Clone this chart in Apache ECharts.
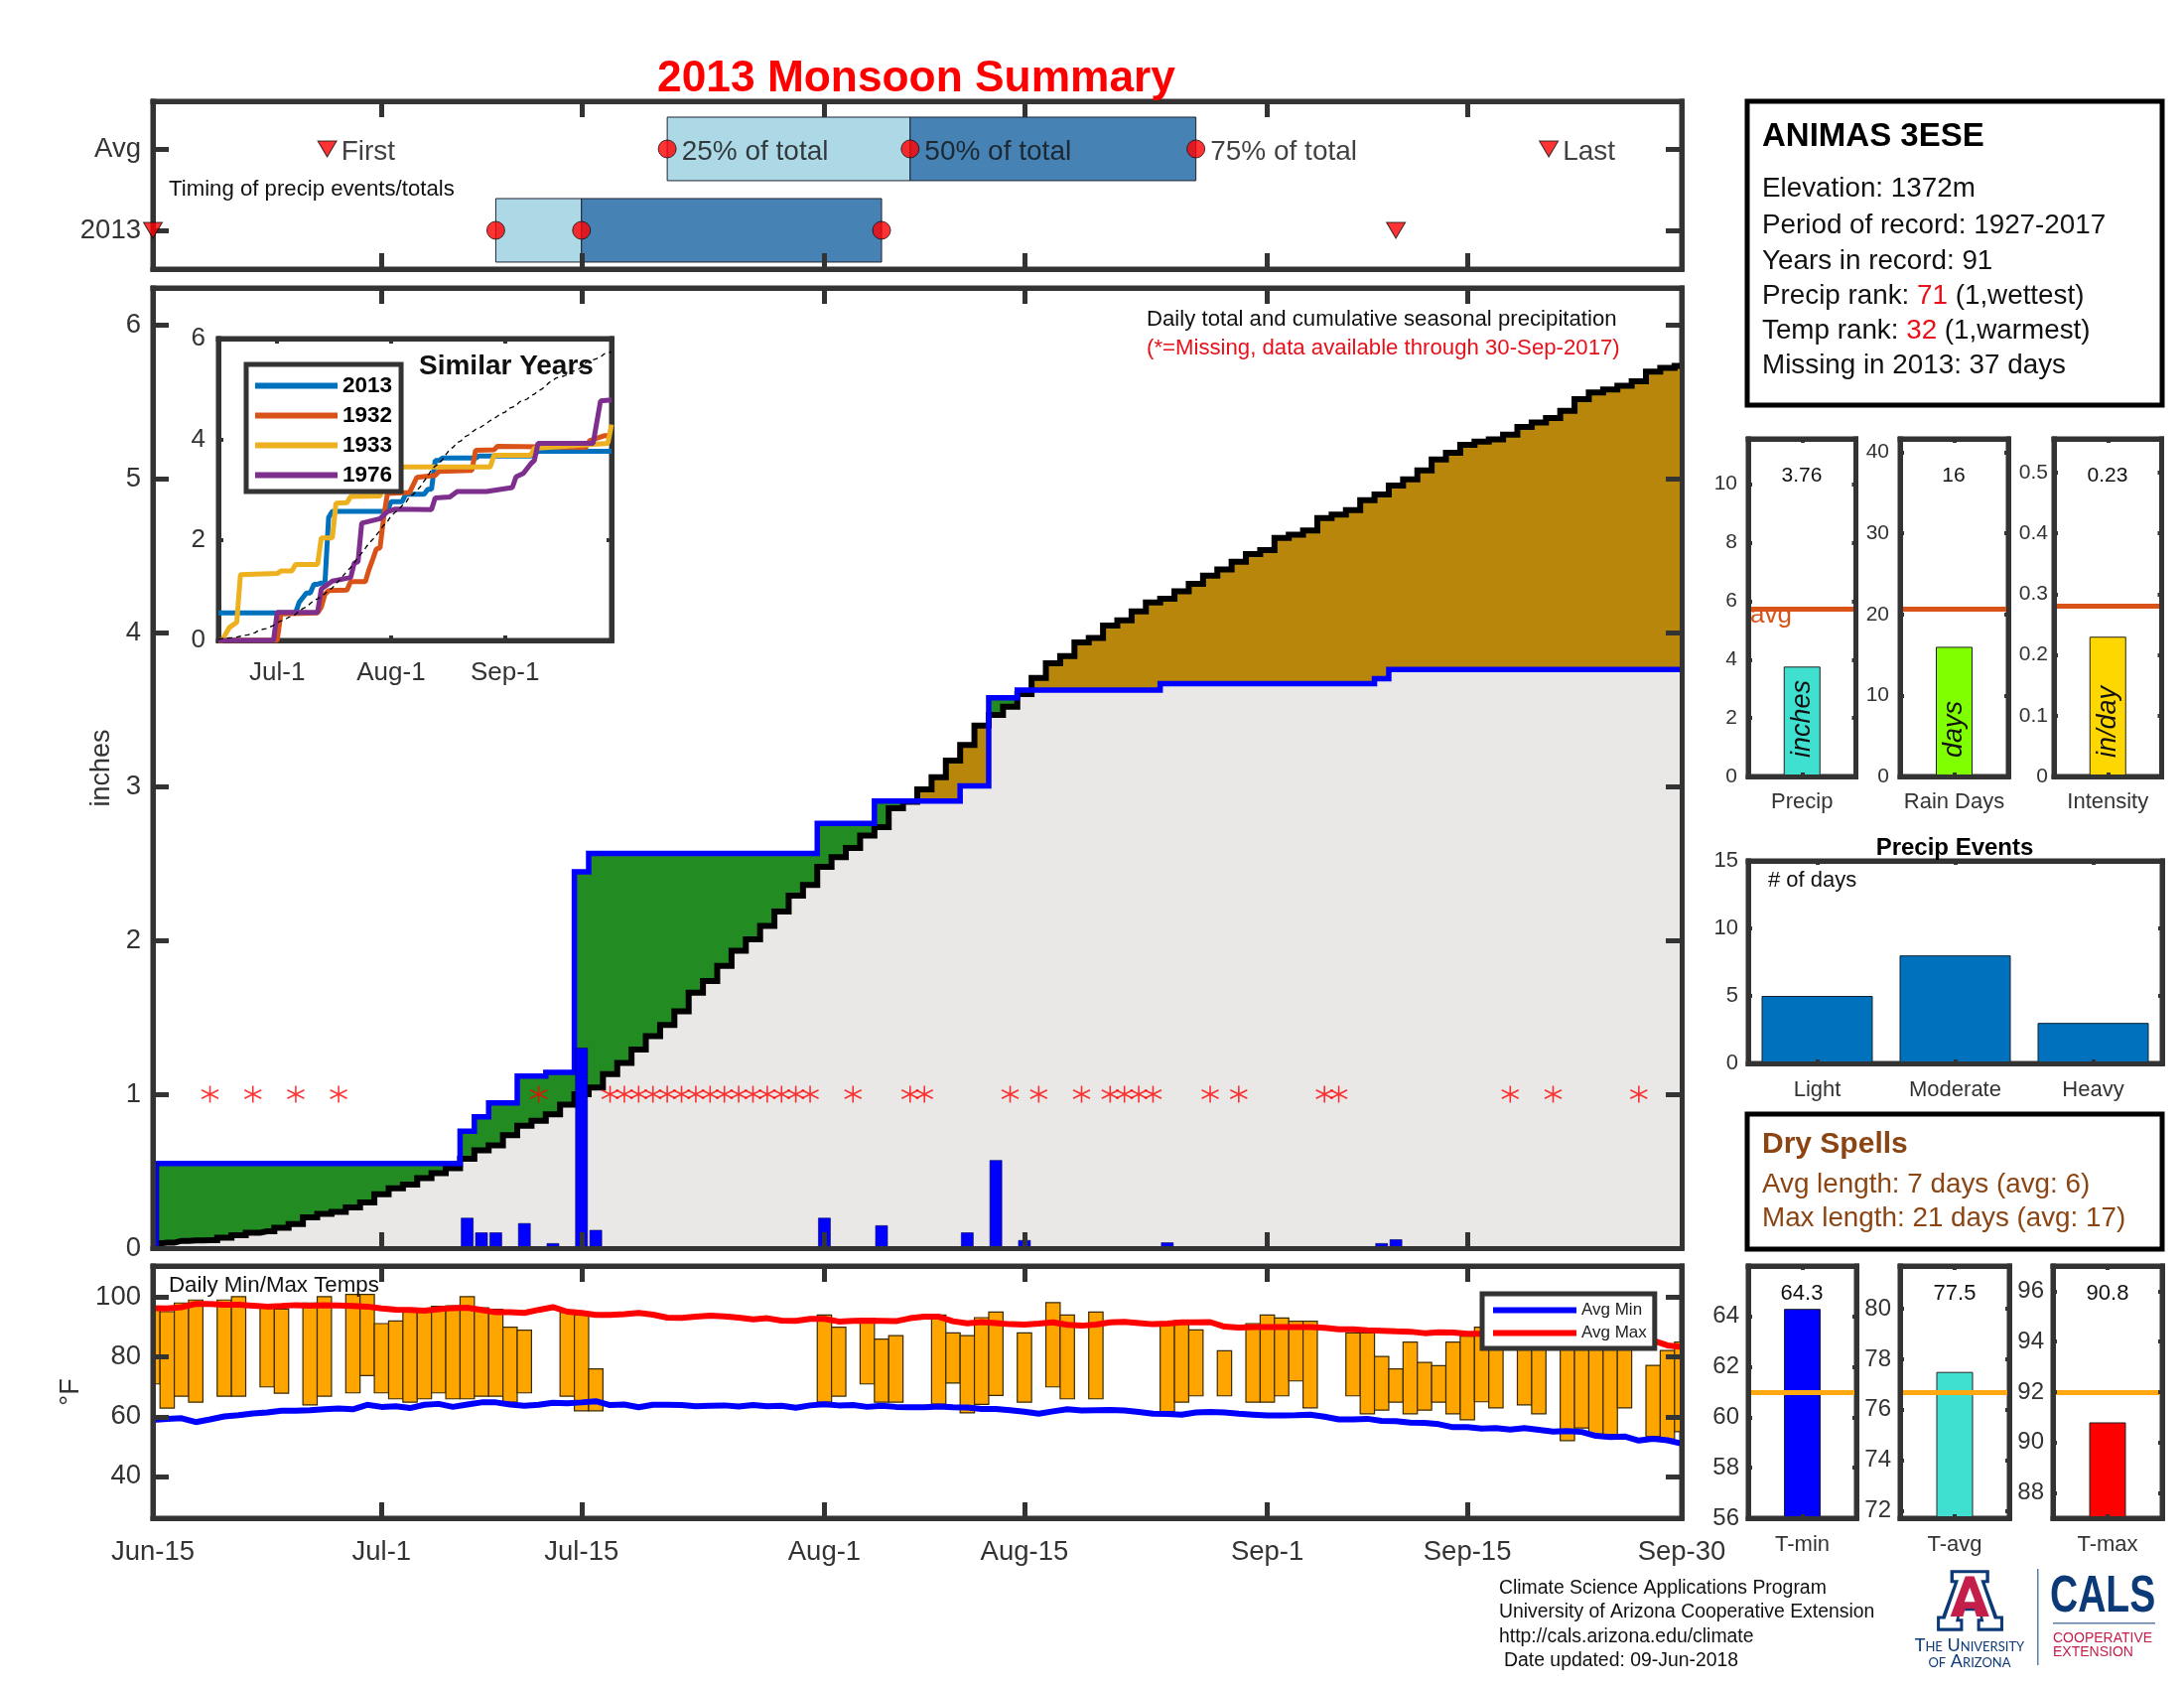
<!DOCTYPE html>
<html>
<head>
<meta charset="utf-8">
<style>html,body{margin:0;padding:0;background:#fff}#c{width:2200px;height:1700px}</style>
<script src="https://cdn.jsdelivr.net/npm/echarts@6/dist/echarts.min.js"></script>
</head>
<body>
<div id="c"></div>
<script>
// ---------- DATA (x values are days since Jun-15) ----------
const tickDays = [0, 16, 30, 47, 61, 78, 92, 107];
const tickLabels = ['Jun-15', 'Jul-1', 'Jul-15', 'Aug-1', 'Aug-15', 'Sep-1', 'Sep-15', 'Sep-30'];
const insetTickDays = [16, 47, 78];
const insetTickLabels = ['Jul-1', 'Aug-1', 'Sep-1'];

const timingNames = ['First', '25% of total', '50% of total', '75% of total', 'Last'];
const timingAvg = [12.2, 36, 53, 73, 97.7];
const timing2013 = [0, 24, 30, 51, 87];

const avgCum = [.03,.035,.047,.05,.052,.067,.084,.10,.11,.133,.156,.20,.222,.235,.265,.297,.35,.388,.413,.455,.487,.52,.58,.635,.667,.734,.796,.828,.87,.932,
  1.0,1.043,1.13,1.204,1.29,1.377,1.45,1.538,1.66,1.735,1.834,1.933,2.007,2.094,2.188,2.29,2.36,2.477,2.54,2.60,2.68,2.735,2.858,2.90,2.98,3.06,3.168,3.27,3.396,3.465,3.518,3.60,
  3.705,3.80,3.847,3.936,3.965,4.046,4.08,4.138,4.196,4.22,4.268,4.317,4.37,4.41,4.46,4.51,4.535,4.614,4.635,4.663,4.744,4.767,4.796,4.86,4.897,4.955,4.995,5.053,5.125,5.168,5.22,5.24,5.255,5.286,5.335,5.364,5.393,5.44,5.517,5.56,5.58,5.604,5.632,5.696,5.72,5.733];
const obsCum = [.55,.55,.55,.55,.55,.55,.55,.55,.55,.55,.55,.55,.55,.55,.55,.55,.55,.55,.55,.55,.55,.55,
  .76,.853,.944,.944,1.117,1.117,1.142,1.142,2.445,
  2.564,2.564,2.564,2.564,2.564,2.564,2.564,2.564,2.564,2.564,2.564,2.564,2.564,2.564,2.564,2.564,
  2.76,2.76,2.76,2.76,2.905,2.905,2.905,2.905,2.905,2.905,3.003,3.003,3.576,3.576,
  3.626,3.626,3.626,3.626,3.626,3.626,3.626,3.626,3.626,3.626,
  3.668,3.668,3.668,3.668,3.668,3.668,3.668,3.668,3.668,3.668,3.668,3.668,3.668,3.668,3.668,3.70,
  3.76,3.76,3.76,3.76,3.76,3.76,3.76,3.76,3.76,3.76,3.76,3.76,3.76,3.76,3.76,3.76,3.76,3.76,3.76,3.76,3.76];
const rainDays = [0,22,23,24,26,28,30,31,47,51,57,59,61,71,86,87];
const rainInches = [.55,.195,.1,.1,.16,.03,1.30,.116,.195,.146,.1,.57,.05,.035,.03,.055];
const missingDays = [4,7,10,13,27,32,33,34,35,36,37,38,39,40,41,42,43,44,45,46,49,53,54,60,62,65,67,68,69,70,74,76,82,83,95,98,104];

const tempDays = [0,1,2,3,5,6,8,9,11,12,14,15,16,17,18,19,20,21,22,23,24,25,26,29,30,31,47,48,50,51,52,55,56,57,58,59,61,63,64,66,71,72,73,75,77,78,79,80,81,84,85,86,87,88,89,90,91,92,93,94,96,97,99,100,101,102,103,105,106,107];
const tempMax = [97,95.2,98.1,99.1,99.1,100.2,96.7,96.1,98.1,100.2,101,101,91.2,92.1,96,96,97,97.2,100.2,96.5,96,90,89,95,94.1,76,94.1,90,93,86,87.2,94.1,88.1,87.2,93.2,95.1,88.1,98.2,94.1,95.1,91,92.2,89.1,82.1,91.2,94.1,93.1,92,92,88.1,88.1,80.2,76,85,78.2,77.1,85,87,90,88,90,88,92,90,88,90,86,77.2,82.2,85];
const tempMin = [71,62.9,66.9,64.9,66.9,66.9,70,67.9,64,66.9,68,73.8,68,66,64.9,66,68,66,66,66.9,66.9,64.9,68,66.9,62,62,64.9,66.9,71,64.9,64.9,64.2,71.3,61.3,64.1,67.1,64.9,70,66,66,61.7,64.9,67,67,64.9,64.9,67,72,63,67,61,62.2,64.9,61,62.2,64.9,61,59,65,63,64,61,52,56.2,54.1,54.1,63,53.3,52.5,55];
const avgMaxLine = [96.4,96.3,96.7,97.8,97.8,97.5,97.5,97.2,96.9,97.1,97.4,97.2,97.4,97.3,97.1,96.9,96.3,95.9,95.8,95.5,96,96.4,96.5,95.8,95,95,94.8,95.8,96.7,95.2,94.8,94.1,94.1,94.4,94.8,94.2,93.2,93.1,93.5,93.9,93.6,93.2,92.6,93,92.2,92.1,92.8,92.8,91.9,92.1,92.2,92.1,92,93,93.5,93.5,92,91.3,91.7,91.4,91,90.9,91.2,91.6,90.8,90.5,90.9,91.6,91.8,91.4,91,91.2,91.6,91.6,91.7,90.2,89.9,90,90,90,90,90,89.8,89.3,89.3,89,88.8,88.6,88.5,88,88.3,88.2,87.8,87.8,87.6,87.5,87.3,87,86.9,87,86.7,86.4,86.3,86,85.9,85.5,83.9,83.4];
const avgMinLine = [58.9,59.3,59.5,58.2,59.1,60.1,60.5,61.1,61.4,62,62,62.2,62.5,62.8,62.5,64,63.3,63.5,62.9,64,64.3,63.3,64.1,64.8,64.8,64.1,63.7,64,64.7,64.5,64.8,65.2,63.9,64.1,63.2,64,64,63.9,63.5,63.7,63.8,63.4,63.9,63.5,63.7,63,63.8,64.2,63.8,63.9,63.3,63.7,63.3,63.2,63.2,63.4,63.2,63.1,62.6,62.6,62.2,61.7,61,61.8,62.5,62.1,62.2,62.3,62.1,61.6,61,60.9,60.7,61.4,61.6,61.4,61,60.7,60.4,60.4,60.5,60.7,60,59.1,59.1,59.3,58.6,58.5,58,57.9,57.5,56.5,56.5,56,56.2,55.7,56.2,55.6,55,55.2,54.9,53.6,53.2,53.4,52,52.6,52.1,51];

const y1932Days = [0,16,17,27,28,29,30,35,36,40,41,42,43,44,45,46,52,54,59,60,69,70,75,76,100,101,105,107];
const y1932Vals = [0,0,.53,.55,.66,.92,.99,1.0,1.17,1.17,1.41,1.61,1.82,1.84,2.46,2.92,2.94,3.24,3.28,3.36,3.38,3.78,3.79,3.86,3.84,3.97,4.07,4.07];
const y1933Days = [0,1,3,5,6,16,17,20,21,27,28,31,32,35,36,44,46,50,74,75,85,86,106,107];
const y1933Vals = [0,0,.26,.36,1.31,1.33,1.38,1.38,1.51,1.51,2.04,2.04,2.73,2.74,2.86,2.87,3.3,3.45,3.45,3.68,3.68,3.82,3.92,4.29];
const y1976Days = [0,15,16,27,28,31,36,37,38,39,44,46,48,58,59,63,65,73,80,81,83,85,86,87,102,104,107];
const y1976Vals = [0,0,.56,.56,1.02,1.18,1.25,1.54,1.56,2.33,2.42,2.56,2.61,2.6,2.83,2.85,2.96,2.96,3.04,3.25,3.32,3.51,3.58,3.92,3.92,4.76,4.78];

const precipValue = 3.76, precipAvg = 5.74;
const rainDaysValue = 16, rainDaysAvg = 20.7;
const intensityValue = 0.23, intensityAvg = 0.276;
const eventCats = ['Light', 'Moderate', 'Heavy'];
const eventDays = [5, 8, 3];
const tminValue = 64.3, tminAvg = 61;
const tavgValue = 77.5, tavgAvg = 76.7;
const tmaxValue = 90.8, tmaxAvg = 92;

// ---------- BUILDERS ----------
const FF = '"Liberation Sans", Arial, sans-serif';
const INK = '#333333';
const grids = [], xAxes = [], yAxes = [], series = [];

function addGrid(o) {
  const g = grids.length;
  grids.push({ left: o.left, top: o.top, width: o.width, height: o.height, show: true,
    borderColor: INK, borderWidth: o.frame, backgroundColor: 'transparent', containLabel: false });
  const line = { show: true, onZero: false, lineStyle: { color: INK, width: o.frame, cap: 'square' } };
  const tick = (vals) => ({ show: true, inside: true, length: o.tickLen, alignWithLabel: true,
    lineStyle: { color: INK, width: o.tickW }, customValues: vals });
  const xBase = o.xCats
    ? { type: 'category', data: o.xCats, boundaryGap: true }
    : { type: 'value', min: o.xMin, max: o.xMax };
  ['bottom', 'top'].forEach((pos, i) => {
    const a = Object.assign({}, xBase, { gridIndex: g, position: pos, z: 5, axisLine: line, splitLine: { show: false },
      axisTick: o.xCats ? { show: true, inside: true, length: o.tickLen, alignWithLabel: true, lineStyle: { color: INK, width: o.tickW } } : tick(o.xTicks) });
    if (i === 0 && (o.xLabels || o.xCats)) {
      a.axisLabel = { show: true, color: INK, fontFamily: FF, fontSize: o.xFont, margin: o.xMargin, hideOverlap: false };
      if (!o.xCats) {
        a.axisLabel.customValues = o.xTicks;
        a.axisLabel.formatter = (v) => o.xLabels[o.xTicks.indexOf(v)];
      }
    } else {
      a.axisLabel = { show: false };
    }
    xAxes.push(a);
  });
  ['left', 'right'].forEach((pos, i) => {
    const a = { type: 'value', gridIndex: g, position: pos, min: o.yMin, max: o.yMax, z: 5,
      axisLine: line, splitLine: { show: false }, axisTick: tick(o.yTicks) };
    if (i === 0) {
      a.axisLabel = { show: true, color: INK, fontFamily: FF, fontSize: o.yFont, margin: o.yMargin, hideOverlap: false, padding: [8, 0, 0, 0],
        customValues: o.yTicks, formatter: o.yLabels ? (v) => o.yLabels[o.yTicks.indexOf(v)] : (v) => String(v) };
      if (o.yName) {
        a.name = o.yName; a.nameLocation = 'middle'; a.nameGap = o.yNameGap;
        a.nameTextStyle = { color: INK, fontFamily: FF, fontSize: 27 };
      }
    } else {
      a.axisLabel = { show: false };
    }
    yAxes.push(a);
  });
  return g * 2;
}
const zip = (xs, ys) => xs.map((x, i) => [x, ys[i]]);
const idx = (arr) => arr.map((v, i) => [i, v]);

// ---- top timing panel ----
const aTop = addGrid({ left: 154, top: 102, width: 1540, height: 169, frame: 5, tickLen: 16, tickW: 5,
  xMin: 0, xMax: 107, xTicks: tickDays, yMin: 0.524, yMax: 2.585, yTicks: [1, 2], yLabels: ['2013', 'Avg'],
  yFont: 27.5, yMargin: 12 });
const timingRows = [
  [timingAvg[1], timingAvg[2], 2, '#ADD8E6'], [timingAvg[2], timingAvg[3], 2, '#4682B4'],
  [timing2013[1], timing2013[2], 1, '#ADD8E6'], [timing2013[2], timing2013[3], 1, '#4682B4']];
series.push({ type: 'custom', name: 'Timing', xAxisIndex: aTop, yAxisIndex: aTop, z: 2, clip: true,
  data: timingRows.map(r => [r[0], r[1], r[2]]),
  encode: { x: [0, 1], y: 2 },
  renderItem: (params, api) => {
    const a = api.coord([api.value(0), api.value(2) + 0.39]);
    const b = api.coord([api.value(1), api.value(2) - 0.39]);
    return { type: 'rect', shape: { x: a[0], y: a[1], width: b[0] - a[0], height: b[1] - a[1] },
      style: { fill: timingRows[params.dataIndex][3], stroke: '#223', lineWidth: 1 } };
  } });
const timingMark = (vals, row, withLabel) => vals.map((d, i) => {
  const tri = i === 0 || i === 4;
  return { value: [d, row], symbol: tri ? 'triangle' : 'circle', symbolSize: tri ? [19, 16] : 18, symbolRotate: tri ? 180 : 0,
    label: withLabel ? { show: true, position: 'right', distance: tri ? 4 : 5, offset: [0, 3], formatter: timingNames[i], fontFamily: FF, fontSize: 28, color: '#111' } : { show: false } };
});
[[timingAvg, 2, true], [timing2013, 1, false]].forEach(([vals, row, lab]) => {
  series.push({ type: 'scatter', name: row === 2 ? 'Timing Avg' : 'Timing 2013', xAxisIndex: aTop, yAxisIndex: aTop, z: 8, clip: false,
    data: timingMark(vals, row, lab), itemStyle: { color: '#FF0000', borderColor: '#111', borderWidth: 1 } });
});

// ---- main precipitation panel ----
const aMain = addGrid({ left: 154, top: 290, width: 1540, height: 967, frame: 5, tickLen: 16, tickW: 5,
  xMin: 0, xMax: 107, xTicks: tickDays, yMin: 0, yMax: 6.239, yTicks: [0, 1, 2, 3, 4, 5, 6],
  yFont: 27.5, yMargin: 12, yName: 'inches', yNameGap: 36 });
const area = (name, data, color, z) => ({ type: 'line', name, xAxisIndex: aMain, yAxisIndex: aMain, step: 'middle', showSymbol: false, z,
  data: idx(data), lineStyle: { width: 0 }, itemStyle: { color }, areaStyle: { color, opacity: 1 } });
series.push(area('Above avg', obsCum, '#228B22', 1));
series.push(area('Below avg', avgCum, '#B8860B', 2));
series.push(area('Common', avgCum.map((v, i) => Math.min(v, obsCum[i])), '#E9E8E7', 3));
series.push({ type: 'line', name: 'Avg cumulative', xAxisIndex: aMain, yAxisIndex: aMain, step: 'middle', showSymbol: false, z: 4,
  data: idx(avgCum), lineStyle: { color: '#000', width: 6, join: 'miter' }, itemStyle: { color: '#000' } });
series.push({ type: 'line', name: '2013 cumulative', xAxisIndex: aMain, yAxisIndex: aMain, step: 'middle', showSymbol: false, z: 4.5,
  data: idx(obsCum), lineStyle: { color: '#0000FF', width: 5.5, join: 'miter' }, itemStyle: { color: '#0000FF' } });
series.push({ type: 'custom', name: 'Daily precip', xAxisIndex: aMain, yAxisIndex: aMain, z: 4.6, clip: true,
  data: zip(rainDays, rainInches), encode: { x: 0, y: 1 },
  renderItem: (params, api) => {
    const top = api.coord([api.value(0), api.value(1)]);
    const bot = api.coord([api.value(0), 0]);
    return { type: 'rect', shape: { x: top[0] - 6, y: top[1], width: 12, height: bot[1] - top[1] },
      style: { fill: '#0000FF', stroke: '#000060', lineWidth: 0.6 } };
  } });
series.push({ type: 'scatter', name: 'Missing', xAxisIndex: aMain, yAxisIndex: aMain, z: 4.8,
  symbol: 'path://M0,-1L0,1M-.87,-.5L.87,.5M-.87,.5L.87,-.5', symbolSize: 17,
  data: missingDays.map(d => [d, 1]), itemStyle: { color: '#FF0000', borderColor: '#FF0000', borderWidth: 1.6 } });

// ---- temperature panel ----
const aTemp = addGrid({ left: 154, top: 1275, width: 1540, height: 254, frame: 5, tickLen: 16, tickW: 5,
  xMin: 0, xMax: 107, xTicks: tickDays, xLabels: tickLabels, xFont: 27.5, xMargin: 20,
  yMin: 26, yMax: 110.5, yTicks: [40, 60, 80, 100], yFont: 27.5, yMargin: 12, yName: '°F', yNameGap: 67 });
series.push({ type: 'custom', name: 'Daily temps', xAxisIndex: aTemp, yAxisIndex: aTemp, z: 2, clip: true,
  data: tempDays.map((d, i) => [d, tempMin[i], tempMax[i]]), encode: { x: 0, y: [1, 2] },
  renderItem: (params, api) => {
    const top = api.coord([api.value(0), api.value(2)]);
    const bot = api.coord([api.value(0), api.value(1)]);
    const w = api.size([1, 0])[0];
    return { type: 'rect', shape: { x: top[0] - w / 2, y: top[1], width: w, height: bot[1] - top[1] },
      style: { fill: '#FFA500', stroke: '#3a2a00', lineWidth: 1.2 } };
  } });
const tline = (name, data, color) => ({ type: 'line', name, xAxisIndex: aTemp, yAxisIndex: aTemp, z: 3, showSymbol: false, data: idx(data),
  lineStyle: { color, width: 6 }, itemStyle: { color } });
series.push(tline('Avg Min', avgMinLine, '#0000FF'));
series.push(tline('Avg Max', avgMaxLine, '#FF0000'));

// ---- inset similar years ----
const aIns = addGrid({ left: 220, top: 341, width: 396, height: 304, frame: 5, tickLen: 5, tickW: 4,
  xMin: 0, xMax: 107, xTicks: insetTickDays, xLabels: insetTickLabels, xFont: 26, xMargin: 20,
  yMin: 0, yMax: 6, yTicks: [0, 2, 4, 6], yFont: 26, yMargin: 13 });
const iline = (name, data, color) => ({ type: 'line', name, xAxisIndex: aIns, yAxisIndex: aIns, z: 6, showSymbol: false, data,
  lineStyle: { color, width: 5 }, itemStyle: { color } });
series.push(iline('2013', idx(obsCum), '#0072BD'));
series.push(iline('1932', zip(y1932Days, y1932Vals), '#D95319'));
series.push(iline('1933', zip(y1933Days, y1933Vals), '#EDB120'));
series.push(iline('1976', zip(y1976Days, y1976Vals), '#7E2F8E'));
series.push({ type: 'line', name: 'Inset average', xAxisIndex: aIns, yAxisIndex: aIns, z: 6.5, showSymbol: false, data: idx(avgCum),
  lineStyle: { color: '#000', width: 1.3, type: [5, 4] }, itemStyle: { color: '#000' } });

// ---- small bar panels ----
function barPanel(o) {
  const a = addGrid({ left: o.left, top: o.top, width: o.width, height: o.height, frame: 5, tickLen: 4, tickW: 4,
    xCats: [o.cat], xFont: 22, xMargin: o.xMargin, yMin: o.yMin, yMax: o.yMax, yTicks: o.yTicks, yFont: o.yFont, yMargin: o.yMargin });
  series.push({ type: 'bar', name: o.cat, xAxisIndex: a, yAxisIndex: a, z: 2, barWidth: 37, data: [o.value],
    itemStyle: { color: o.color, borderColor: '#222', borderWidth: 1 },
    label: o.inner ? { show: true, position: 'insideBottom', distance: 17, rotate: 90, align: 'left', verticalAlign: 'middle',
      formatter: o.inner, fontFamily: FF, fontStyle: 'italic', fontSize: 27, color: '#111', offset: [2, 0] } : { show: false },
    markLine: { silent: true, symbol: 'none', animation: false, label: { show: false }, z: 3,
      lineStyle: { color: o.avgColor, width: 5, type: 'solid' }, data: [{ yAxis: o.avg }] } });
}
const PCOL = '#D95319', TCOL = '#FFA812';
barPanel({ cat: 'Precip', left: 1761, top: 442, width: 108.5, height: 340, yMin: 0, yMax: 11.55, yTicks: [0, 2, 4, 6, 8, 10], yFont: 21, yMargin: 11, xMargin: 15,
  value: precipValue, avg: precipAvg, avgColor: PCOL, color: '#40E0D0', inner: 'inches' });
barPanel({ cat: 'Rain Days', left: 1914, top: 442, width: 109, height: 340, yMin: 0, yMax: 41.66, yTicks: [0, 10, 20, 30, 40], yFont: 21, yMargin: 11, xMargin: 15,
  value: rainDaysValue, avg: rainDaysAvg, avgColor: PCOL, color: '#7FFF00', inner: 'days' });
barPanel({ cat: 'Intensity', left: 2069, top: 442, width: 108.5, height: 340, yMin: 0, yMax: 0.5555, yTicks: [0, 0.1, 0.2, 0.3, 0.4, 0.5], yFont: 21, yMargin: 6, xMargin: 15,
  value: intensityValue, avg: intensityAvg, avgColor: PCOL, color: '#FFD700', inner: 'in/day' });
barPanel({ cat: 'T-min', left: 1761, top: 1275, width: 109, height: 254, yMin: 56, yMax: 66, yTicks: [56, 58, 60, 62, 64], yFont: 24, yMargin: 9, xMargin: 16,
  value: tminValue, avg: tminAvg, avgColor: TCOL, color: '#0000FF' });
barPanel({ cat: 'T-avg', left: 1914, top: 1275, width: 110, height: 254, yMin: 71.7, yMax: 81.7, yTicks: [72, 74, 76, 78, 80], yFont: 24, yMargin: 9, xMargin: 16,
  value: tavgValue, avg: tavgAvg, avgColor: TCOL, color: '#40E0D0' });
barPanel({ cat: 'T-max', left: 2068, top: 1275, width: 110, height: 254, yMin: 87, yMax: 97, yTicks: [88, 90, 92, 94, 96], yFont: 24, yMargin: 9, xMargin: 16,
  value: tmaxValue, avg: tmaxAvg, avgColor: TCOL, color: '#FF0000' });

const aEv = addGrid({ left: 1761, top: 867, width: 417, height: 204, frame: 5, tickLen: 4, tickW: 4,
  xCats: eventCats, xFont: 22, xMargin: 16, yMin: 0, yMax: 15, yTicks: [0, 5, 10, 15], yFont: 22, yMargin: 10 });
series.push({ type: 'bar', name: 'Precip Events', xAxisIndex: aEv, yAxisIndex: aEv, z: 2, barWidth: 112, data: eventDays,
  itemStyle: { color: '#0072BD', borderColor: '#123', borderWidth: 1 } });

// ---- free text, boxes and logo ----
const T = (x, y, text, size, fill, opt) => {
  opt = opt || {};
  return { type: 'text', z: 30, x, y: y + 3, style: Object.assign({ text, fill: fill || '#111', align: opt.align || 'left', verticalAlign: 'middle',
    font: (opt.italic ? 'italic ' : '') + (opt.bold ? 'bold ' : '') + size + 'px ' + FF }, opt.style || {}), scaleX: opt.scaleX || 1 };
};
const box = (x, y, w, h) => ({ type: 'rect', z: 1, shape: { x, y, width: w, height: h }, style: { fill: '#fff', stroke: '#000', lineWidth: 5 } });
const RED = { fill: '#E8101A', font: '27.8px ' + FF };
const L = (pts) => pts.map(p => [1920 + p[0] / 2.96, 1570 + p[1] / 2.96]); // logo outline, from the logo crop
const poly = (pts, fill) => ({ type: 'polygon', z: 30, shape: { points: L(pts) }, style: { fill } });
const NAVY = '#0C3A78', CRIM = '#C41E4A';
const graphics = [
  T(923, 77, '2013 Monsoon Summary', 44.3, '#FF0000', { bold: true, align: 'center' }),
  T(170, 188, 'Timing of precip events/totals', 22.2, '#111'),
  T(1155, 319, 'Daily total and cumulative seasonal precipitation', 22.2, '#111'),
  T(1155, 348, '(*=Missing, data available through 30-Sep-2017)', 22.2, '#E8101A'),
  T(422, 366, 'Similar Years', 28, '#111', { bold: true }),
  T(170, 1292, 'Daily Min/Max Temps', 22.3, '#111'),
  box(1760, 102, 418, 306),
  T(1775, 135, 'ANIMAS 3ESE', 33, '#000', { bold: true }),
  T(1775, 187, 'Elevation: 1372m', 27.8),
  T(1775, 224, 'Period of record: 1927-2017', 27.8),
  T(1775, 260, 'Years in record: 91', 27.8),
  T(1775, 295, 'Precip rank: {r|71} (1,wettest)', 27.8, '#111', { style: { rich: { r: RED } } }),
  T(1775, 330, 'Temp rank: {r|32} (1,warmest)', 27.8, '#111', { style: { rich: { r: RED } } }),
  T(1775, 365, 'Missing in 2013: 37 days', 27.8),
  T(1815, 476, '3.76', 21, '#111', { align: 'center' }),
  T(1968, 476, '16', 21, '#111', { align: 'center' }),
  T(2123, 476, '0.23', 21, '#111', { align: 'center' }),
  T(1763, 617, 'avg', 26, PCOL),
  T(1969, 851, 'Precip Events', 24, '#000', { bold: true, align: 'center' }),
  T(1781, 884, '# of days', 22),
  box(1760, 1122, 418, 136),
  T(1775, 1150, 'Dry Spells', 30, '#8B4513', { bold: true }),
  T(1775, 1190, 'Avg length: 7 days (avg: 6)', 27.8, '#8B4513'),
  T(1775, 1224, 'Max length: 21 days (avg: 17)', 27.8, '#8B4513'),
  T(1815, 1300, '64.3', 22, '#111', { align: 'center' }),
  T(1969, 1300, '77.5', 22, '#111', { align: 'center' }),
  T(2123, 1300, '90.8', 22, '#111', { align: 'center' }),
  T(1510, 1597, 'Climate Science Applications Program', 19.4),
  T(1510, 1621, 'University of Arizona Cooperative Extension', 19.4),
  T(1510, 1646, 'http://cals.arizona.edu/climate', 19.4),
  T(1515, 1670, 'Date updated: 09-Jun-2018', 19.4),
  // logo
  poly([[132,33],[248,33],[248,72],[236,72],[272,170],[290,170],[290,215],[212,215],[212,178],[222,178],[216,155],[164,155],[158,178],[170,178],[170,215],[92,215],[92,170],[108,170],[144,72],[132,72]], NAVY),
  poly([[142,42],[238,42],[238,63],[223,63],[263,179],[281,179],[281,206],[221,206],[221,187],[232,187],[222,146],[158,146],[148,187],[161,187],[161,206],[101,206],[101,179],[117,179],[157,63],[142,63]], '#fff'),
  poly([[177,52],[203,52],[248,172],[210,172],[203,148],[177,148],[170,172],[132,172]], CRIM),
  poly([[190,85],[206,128],[174,128]], '#fff'),
  { type: 'rect', z: 30, shape: { x: 2052, y: 1580, width: 1.5, height: 97 }, style: { fill: '#5C7FA8' } },
  T(1984, 1654, 'The University', 18, NAVY, { align: 'center', style: { font: 'small-caps 18px Lato, ' + FF } }),
  T(1984, 1670, 'of Arizona', 18, NAVY, { align: 'center', style: { font: 'small-caps 18px Lato, ' + FF } }),
  T(2065, 1606, 'CALS', 52, NAVY, { bold: true, scaleX: 0.75 }),
  { type: 'rect', z: 30, shape: { x: 2068, y: 1634, width: 103, height: 1.5 }, style: { fill: '#5C7FA8' } },
  T(2068, 1647, 'COOPERATIVE', 14, CRIM),
  T(2068, 1661, 'EXTENSION', 14, CRIM)
];

// ---------- CHART ----------
const chart = echarts.init(document.getElementById('c'), null, { renderer: 'canvas' });
chart.setOption({
  animation: false,
  backgroundColor: '#fff',
  textStyle: { fontFamily: FF },
  grid: grids, xAxis: xAxes, yAxis: yAxes, series,
  legend: [
    { left: 248, top: 367, orient: 'vertical', data: ['2013', '1932', '1933', '1976'], icon: 'rect', itemWidth: 83, itemHeight: 6, itemGap: 7,
      padding: [10, 9, 5, 9], z: 20, backgroundColor: '#fff', borderColor: INK, borderWidth: 5, selectedMode: false,
      textStyle: { fontFamily: FF, fontSize: 22.5, fontWeight: 'bold', color: '#000', padding: [4, 0, 0, 0] } },
    { left: 1493, top: 1303, orient: 'vertical', data: ['Avg Min', 'Avg Max'], icon: 'rect', itemWidth: 84, itemHeight: 6, itemGap: 6,
      padding: [8, 8, 7, 11], z: 20, backgroundColor: '#fff', borderColor: INK, borderWidth: 5, selectedMode: false,
      textStyle: { fontFamily: FF, fontSize: 17, color: '#222', padding: [3, 0, 0, 0] } }
  ],
  graphic: { elements: graphics }
});
</script>
</body>
</html>
